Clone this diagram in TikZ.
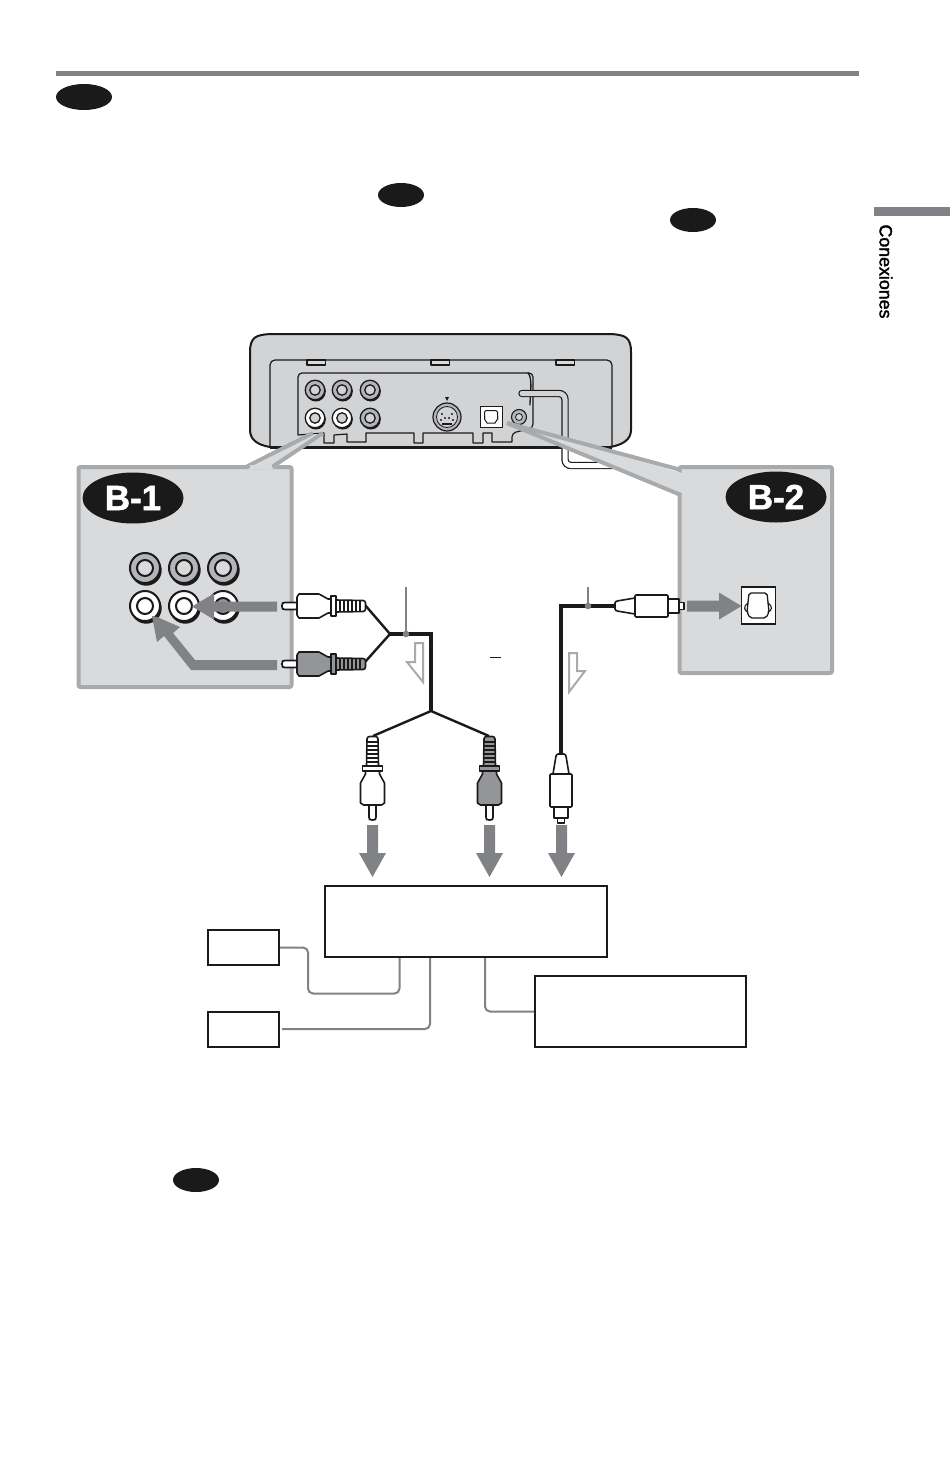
\documentclass[tikz,border=0pt]{standalone}
\usepackage{fontspec}
\setmainfont{Liberation Sans}
\newfontfamily\heavyfont[FakeBold=2]{Liberation Sans}
\newfontfamily\badgefont[FakeBold=1.5]{Liberation Sans Bold}
\usetikzlibrary{shapes.geometric}
\definecolor{panelgray}{HTML}{D9DADB}
\definecolor{paneledge}{HTML}{A9AAAC}
\definecolor{devgray}{HTML}{D2D3D5}
\definecolor{arrowgray}{HTML}{808285}
\definecolor{plugdark}{HTML}{939598}
\definecolor{ringgray}{HTML}{B4B5B8}
\definecolor{inkblack}{HTML}{1A1A1A}
\tikzset{
  badge/.style={ellipse,fill=inkblack,inner sep=0pt,minimum width=46pt,minimum height=24pt},
  bigbadge/.style={ellipse,fill=inkblack,inner sep=0pt,minimum width=101pt,minimum height=51pt,text=white,font=\badgefont\fontsize{35}{35}\selectfont},
  labelbox/.style={draw=inkblack,line width=2pt,fill=white,inner sep=0pt},
  wire/.style={draw=arrowgray,line width=2pt,rounded corners=5pt},
  plugline/.style={draw=inkblack,line width=1.6pt,line join=round},
  bluntarrow/.style={fill=arrowgray,draw=none},
  hollowarrow/.style={draw=paneledge,fill=white,line width=2pt,line join=miter},
  devline/.style={draw=inkblack,line width=1.2pt,line join=round}
}
% RCA plug: tip at origin, axis along local x
\newcommand{\rcaplug}[4]{%
 \begin{scope}[shift={(#1,#2)},#3]
  \draw[plugline,fill=white,rounded corners=1.5pt] (15,-3.5)--(1,-3.5)--(0,-2)--(0,2)--(1,3.5)--(15,3.5);
  \draw[plugline,fill=#4] (15,-9)--(17,-12)--(37,-12)--(46,-7)--(49,-7)--(49,7)--(46,7)--(37,12)--(17,12)--(15,9)--cycle;
  \draw[plugline,fill=#4] (49,-10)--(54,-10)--(54,10)--(49,10)--cycle;
  \draw[plugline,fill=#4,rounded corners=1pt] (54,-6)--(82,-5.5)--(83.5,-4)--(83.5,4)--(82,5.5)--(54,6)--cycle;
  \foreach \u in {58,62,66,70,74,78}{\draw[draw=inkblack,line width=1.2pt] (\u,-6)--(\u,6);}
 \end{scope}}
% Optical plug: tip at origin, axis along local x
\newcommand{\optplug}[3]{%
 \begin{scope}[shift={(#1,#2)},#3]
  \draw[plugline,fill=white] (5,-3.5)--(0,-3.5)--(0,3.5)--(5,3.5)--cycle;
  \draw[plugline,fill=white] (5,-7)--(16,-7)--(16,7)--(5,7)--cycle;
  \draw[plugline,fill=white,rounded corners=1pt] (16,-11)--(49,-11)--(49,11)--(16,11)--cycle;
  \draw[plugline,fill=white,rounded corners=1pt] (49,-8)--(67,-5)--(69,-4)--(69,4)--(67,5)--(49,8)--cycle;
 \end{scope}}
% Socket: x, y, scale, ring colour, centre colour
\newcommand{\socket}[5]{%
 \begin{scope}[shift={(#1,#2)}]
  \fill[inkblack] (1.2*#3,2.2*#3) circle[radius=15.5pt*#3];
  \draw[draw=inkblack,line width=#3*2pt,fill=#4] (0,0) circle[radius=15pt*#3];
  \draw[draw=inkblack,line width=#3*2pt,fill=#5] (0,0) circle[radius=8pt*#3];
 \end{scope}}
\begin{document}
\begin{tikzpicture}[x=1pt,y=-1pt]
\useasboundingbox (0,0) rectangle (950,1480);
\fill[white] (0,0) rectangle (950,1480);
% page furniture
\fill[arrowgray] (56,71) rectangle (859,76);
\node[badge,minimum width=56pt,minimum height=26pt] (b0) at (84,97) {};
\node[badge] (b1) at (401,195) {};
\node[badge] (b2) at (693,220) {};
\node[badge] (b3) at (196,1180) {};
\fill[arrowgray] (874,207) rectangle (950,216);
\node[rotate=-90,anchor=center,inner sep=0pt] (sect) at (886,271.5) {\heavyfont\fontsize{17.8}{18}\selectfont Conexiones};
% device
\draw[draw=inkblack,line width=2pt,fill=devgray] (250,352) .. controls (250,337) and (256,335) .. (270,334) -- (611,334) .. controls (625,335) and (631,337) .. (631,352) -- (631,430) .. controls (631,440) and (622,445) .. (610,447) -- (270,447) .. controls (258,445) and (250,440) .. (250,430) -- cycle;
\draw[draw=inkblack,line width=2.8pt] (270,447.5) -- (612,447.5);
\draw[devline,rounded corners=5pt] (270,447) -- (270,360) -- (612,360) -- (612,447);
\foreach \tx in {307,431,556}{\draw[devline,fill=panelgray] (\tx,360) rectangle (\tx+18.5,365);}
\draw[devline,rounded corners=4pt,fill=devgray] (298,435) -- (298,373) -- (533,373) -- (533,428) -- (512,433) [sharp corners] -- (512,442) -- (492,442) -- (492,433) -- (483,433) -- (483,443) -- (473,443) -- (473,433) -- (423,433) -- (423,443) -- (414,443) -- (414,433) -- (366,433) -- (366,442) -- (347,442) -- (347,434) -- (334,435) -- (334,443) -- (324,443) -- (324,433) -- cycle;
\draw[draw=inkblack,line width=1.3pt,line cap=round] (528,373) .. controls (533,378) and (530,395) .. (530,405);
% device cable
\draw[draw=inkblack,line width=7.4pt,rounded corners=6pt,line cap=round] (522,393.5) -- (565,393.5) -- (565,465.5) -- (612,465.5);
\draw[draw=devgray,line width=5pt,rounded corners=6pt,line cap=round] (522,393.5) -- (565,393.5) -- (565,447);
\draw[draw=white,line width=5pt,rounded corners=6pt] (565,447) -- (565,465.5) -- (612,465.5);
% small sockets
\socket{315}{390}{0.65}{ringgray}{devgray}
\socket{342}{390}{0.65}{ringgray}{devgray}
\socket{370}{390}{0.65}{ringgray}{devgray}
\socket{315}{418}{0.65}{white}{devgray}
\socket{342}{418}{0.65}{white}{devgray}
\socket{370}{418}{0.65}{ringgray}{devgray}
\fill[inkblack] (445,397) -- (449,397) -- (447,401) -- cycle;
\draw[draw=inkblack,line width=1.2pt,fill=ringgray] (447,417) circle[radius=14pt];
\draw[draw=inkblack,line width=0.8pt,fill=devgray] (447,417) circle[radius=10.5pt];
\foreach \dx/\dy in {-5/-3,5/-3,-6/3,6/3,-2/1,2/1}{\fill[inkblack] (447+\dx,417+\dy) circle[radius=1.1pt];}
\fill[inkblack] (442,423) rectangle (452,425);
\draw[draw=inkblack,line width=1pt,fill=white] (480,406) rectangle (502,427);
\draw[draw=inkblack,line width=1pt,rounded corners=1.5pt] (484.5,423) -- (484.5,410.5) -- (497.5,410.5) -- (497.5,423) -- cycle;
\fill[white] (484,419) rectangle (498,424);
\draw[draw=inkblack,line width=1pt] (484.5,416) -- (484.5,419) -- (487,423) -- (495,423) -- (497.5,419) -- (497.5,416);
\draw[draw=inkblack,line width=1.1pt,fill=ringgray] (519,417) circle[radius=7.5pt];
\draw[draw=inkblack,line width=0.8pt,fill=devgray] (519,417) circle[radius=3.5pt];
% panel B-1
\draw[draw=paneledge,line width=4pt,fill=panelgray,rounded corners=2pt] (78.5,467) rectangle (291.5,687);
\fill[panelgray] (248,469) -- (313,434) -- (323,434) -- (273,469) -- cycle;
\draw[draw=paneledge,line width=4pt,line join=miter] (246,467) -- (313,433);
\draw[draw=paneledge,line width=4pt,line join=miter] (272,467) -- (323,433);
\fill[panelgray] (250,465) -- (272,465) -- (272,469) -- (250,469) -- cycle;
\node[bigbadge] (bone) at (133,498) {B-1};
\socket{145}{568}{1}{ringgray}{panelgray}
\socket{184}{568}{1}{ringgray}{panelgray}
\socket{223}{568}{1}{ringgray}{panelgray}
\socket{145}{606}{1}{white}{white}
\socket{184}{606}{1}{white}{white}
\socket{223}{606}{1}{white}{plugdark}
\path[bluntarrow] (277,601.5) -- (214,601.5) -- (214,593.5) -- (192,606.5) -- (214,619.5) -- (214,611.5) -- (277,611.5) -- cycle;
\path[bluntarrow] (277,660) -- (195,660) -- (173,633) -- (180,627) -- (157,617) -- (152,616) -- (157,642) -- (164,636) -- (191,670) -- (277,670) -- cycle;
% panel B-2
\draw[draw=paneledge,line width=4pt,fill=panelgray,rounded corners=2pt] (679.5,467) rectangle (832,673);
\fill[panelgray] (507,423) -- (682,473) -- (682,493) -- cycle;
\draw[draw=paneledge,line width=4pt,line join=miter] (507,423) -- (681,470);
\draw[draw=paneledge,line width=4pt,line join=miter] (507,423) -- (681,495);
\node[bigbadge] (btwo) at (776,497) {B-2};
\draw[draw=inkblack,line width=1.2pt,fill=white] (741.5,587) rectangle (775.5,624);
\draw[draw=inkblack,line width=1.3pt,rounded corners=2pt] (750,618) -- (747,612) -- (749,593) -- (767,593) -- (769,612) -- (766,618) -- cycle;
\draw[draw=inkblack,line width=1.1pt] (748,603) .. controls (743,606) and (744,611) .. (748,612);
\draw[draw=inkblack,line width=1.1pt] (768,603) .. controls (773,606) and (772,611) .. (768,612);
\path[bluntarrow] (687,600.5) -- (719,600.5) -- (719,592.5) -- (741.5,606) -- (719,619.5) -- (719,611.5) -- (687,611.5) -- cycle;
% Y cable
\coordinate (yjoin) at (390,634);
\coordinate (ycorner) at (431,634);
\coordinate (ysplit) at (431,711);
\coordinate (lptop) at (373,736);
\coordinate (rptop) at (489,736);
\draw[draw=inkblack,line width=2.4pt] (365,605) -- (yjoin) -- (365,662);
\draw[draw=inkblack,line width=3.8pt] (yjoin) -- (ycorner) -- (ysplit);
\draw[draw=inkblack,line width=2.4pt] (lptop) -- (ysplit) -- (rptop);
\rcaplug{282}{606}{x={(1pt,0)},y={(0,-1pt)}}{white}
\rcaplug{282}{664}{x={(1pt,0)},y={(0,-1pt)}}{plugdark}
\rcaplug{372.5}{820}{x={(0,1pt)},y={(1pt,0)}}{white}
\rcaplug{489.5}{820}{x={(0,1pt)},y={(1pt,0)}}{plugdark}
\coordinate (leadA) at (406,634);
\draw[draw=arrowgray,line width=1.5pt] (406,587) -- (leadA);
\fill[arrowgray] (leadA) circle[radius=3.3pt];
\draw[hollowarrow] (415,643) -- (423,643) -- (423,682) -- (407,662) -- (415,662) -- cycle;
% optical cable
\coordinate (ocorner) at (561,606);
\draw[draw=inkblack,line width=3.8pt] (615,606) -- (ocorner) -- (561,753);
\optplug{684}{606}{x={(-1pt,0)},y={(0,-1pt)}}
\optplug{561}{823}{x={(0,1pt)},y={(1pt,0)}}
\coordinate (leadB) at (588,606);
\draw[draw=arrowgray,line width=1.5pt] (588,587) -- (leadB);
\fill[arrowgray] (leadB) circle[radius=3.3pt];
\draw[hollowarrow] (569,653) -- (577,653) -- (577,671) -- (585,671) -- (569,692) -- cycle;
\draw[draw=inkblack,line width=1pt] (490,657) -- (501,657);
% down arrows
\foreach \ax in {372.5,489.5,561.5}{
  \path[bluntarrow] (\ax-5.5,825) -- (\ax+5.5,825) -- (\ax+5.5,853) -- (\ax+13.5,853) -- (\ax,877) -- (\ax-13.5,853) -- (\ax-5.5,853) -- cycle;
}
% boxes and wires
\node[labelbox,minimum width=282pt,minimum height=71pt] (recv) at (466,921.5) {};
\node[labelbox,minimum width=71pt,minimum height=35pt] (spka) at (243.5,947.5) {};
\node[labelbox,minimum width=71pt,minimum height=35pt] (spkb) at (243.5,1029) {};
\node[labelbox,minimum width=211pt,minimum height=71pt] (tvbox) at (640.5,1011.5) {};
\draw[wire] (spka.east) -- (308,947.5) -- (308,993.5) -- (399.5,993.5) -- (399.5,958);
\draw[wire] (spkb.east) ++(2,0) -- (430,1029) -- (430,958);
\draw[wire] (485,958) -- (485,1011.5) -- (tvbox.west);
\end{tikzpicture}
\end{document}
